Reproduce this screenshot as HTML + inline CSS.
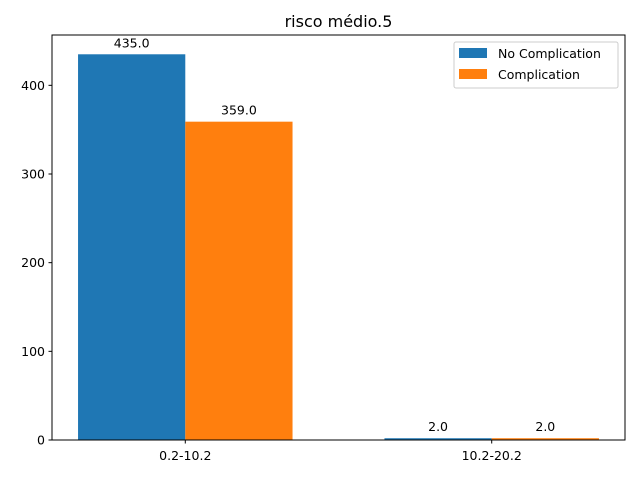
<!DOCTYPE html>
<html><head><meta charset="utf-8"><style>
body{margin:0;background:#fff;}
svg{display:block;font-family:"DejaVu Sans","Liberation Sans",sans-serif;}
</style></head><body>
<svg id="chart" width="640" height="479" viewBox="0 0 640 479"></svg>
<script>
const categories = ["0.2-10.2", "10.2-20.2"];
const noComplication = [435, 2];
const complication = [359, 2];
const yTicks = [0, 100, 200, 300, 400];

const NS = "http://www.w3.org/2000/svg";
const svg = document.getElementById("chart");
const L = 52, R = 625, T = 35, B = 440;
const xMin = -0.435, xMax = 1.435, yMin = 0, yMax = 456.75;
const xs = v => L + (v - xMin) / (xMax - xMin) * (R - L);
const ys = v => B - (v - yMin) / (yMax - yMin) * (B - T);
function mk(tag, attrs, text) {
  const e = document.createElementNS(NS, tag);
  for (const k in attrs) e.setAttribute(k, attrs[k]);
  if (text !== undefined) e.textContent = text;
  svg.appendChild(e);
  return e;
}
const w = 0.35;
const series = [
  {vals: noComplication, color: "#1f77b4", off: -w/2, name: "no-complication"},
  {vals: complication, color: "#ff7f0e", off: w/2, name: "complication"}
];
series.forEach(s => {
  s.vals.forEach((v, i) => {
    const x0 = xs(i + s.off - w/2), x1 = xs(i + s.off + w/2);
    const r = mk("rect", {x: x0, y: ys(v), width: x1 - x0, height: ys(0) - ys(v), fill: s.color});
    
    
    const t = mk("text", {x: (x0 + x1) / 2, y: ys(v) - 7, "text-anchor": "middle", "font-size": 12.5, fill: "#000"}, v.toFixed(1));
    
    
  });
});
const frame = mk("rect", {x: L, y: T, width: R - L, height: B - T, fill: "none", stroke: "#000", "stroke-width": 1});


yTicks.forEach(v => {
  const y = ys(v);
  const tk = mk("line", {x1: L - 3.5, x2: L, y1: y, y2: y, stroke: "#000"});
  
  
  const t = mk("text", {x: L - 7, y: y + 4.5, "text-anchor": "end", "font-size": 12.5}, String(v));
  
  
});
categories.forEach((c, i) => {
  const x = xs(i);
  const tk = mk("line", {x1: x, x2: x, y1: B, y2: B + 3.5, stroke: "#000"});
  
  
  const t = mk("text", {x: x, y: B + 20, "text-anchor": "middle", "font-size": 12.5}, c);
  
  
});
const title = mk("text", {x: (L + R) / 2, y: 27, "text-anchor": "middle", "font-size": 16}, "risco médio.5");


const lg = mk("rect", {x: 454, y: 42, width: 164, height: 46, fill: "#fff", stroke: "#ccc", rx: 2});


[["No Complication", "#1f77b4"], ["Complication", "#ff7f0e"]].forEach((e, i) => {
  const y = 48 + i * 21;
  const sw = mk("rect", {x: 459, y: y, width: 28, height: 10, fill: e[1]});
  
  
  const t = mk("text", {x: 498, y: y + 10, "font-size": 12.5}, e[0]);
  
  
});
</script>
</body></html>
